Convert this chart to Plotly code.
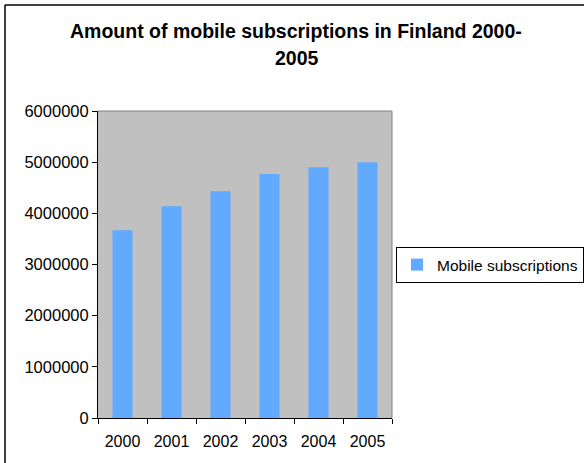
import plotly.graph_objects as go

years = ["2000", "2001", "2002", "2003", "2004", "2005"]
subscriptions = [3670000, 4140000, 4430000, 4770000, 4900000, 5000000]
series_name = "Mobile subscriptions"
title_line1 = "Amount of mobile subscriptions in Finland 2000-"
title_line2 = "2005"

W, H = 584, 463
L, R, T, B = 98, 192, 111, 45
pw, ph = W - L - R, H - T - B

def px_x(x):
    return (x - L) / pw

def px_y(y):
    return (H - B - y) / ph

FONT = "Liberation Sans, Arial, sans-serif"

fig = go.Figure()
fig.add_trace(go.Bar(x=years, y=subscriptions, name=series_name,
                     marker=dict(color="#62aaff", line=dict(width=0)),
                     showlegend=True))

fig.update_layout(
    width=W, height=H,
    margin=dict(l=L, r=R, t=T, b=B, autoexpand=False),
    paper_bgcolor="white",
    plot_bgcolor="#c0c0c0",
    bargap=0.59,
    showlegend=True,
    font=dict(family=FONT, size=16, color="black"),
    legend=dict(x=px_x(396), y=px_y(265), xanchor="left", yanchor="middle",
                bgcolor="white", bordercolor="black", borderwidth=1,
                font=dict(size=15.5), itemsizing="constant"),
    xaxis=dict(showline=True, linecolor="black", linewidth=1,
               ticks="outside", ticklen=5, tickcolor="black",
               tickson="boundaries", showgrid=False, zeroline=False,
               ticklabelstandoff=9,
               tickfont=dict(size=16)),
    yaxis=dict(range=[0, 6000000], dtick=1000000, showline=True,
               linecolor="black", linewidth=1, ticks="outside", ticklen=5,
               tickcolor="black", showgrid=False, zeroline=False,
               tickformat="d", tickfont=dict(size=16.5)),
    shapes=[
        dict(type="line", xref="paper", yref="paper", x0=0, x1=1, y0=1, y1=1,
             line=dict(color="#808080", width=1)),
        dict(type="line", xref="paper", yref="paper", x0=1, x1=1, y0=0, y1=1,
             line=dict(color="#808080", width=1)),
        dict(type="line", xref="paper", yref="paper", x0=px_x(5), x1=px_x(W + 5),
             y0=px_y(5), y1=px_y(5), line=dict(color="black", width=1.5)),
        dict(type="line", xref="paper", yref="paper", x0=px_x(5), x1=px_x(5),
             y0=px_y(5), y1=px_y(H + 5), line=dict(color="black", width=1.5)),
    ],
    annotations=[
        dict(text="<b>" + title_line1 + "</b>", xref="paper", yref="paper",
             x=px_x(296), y=px_y(31), xanchor="center", yanchor="middle",
             showarrow=False, font=dict(size=19.5)),
        dict(text="<b>" + title_line2 + "</b>", xref="paper", yref="paper",
             x=px_x(297), y=px_y(58), xanchor="center", yanchor="middle",
             showarrow=False, font=dict(size=19.5)),
    ],
)

fig.write_html("out.html")
